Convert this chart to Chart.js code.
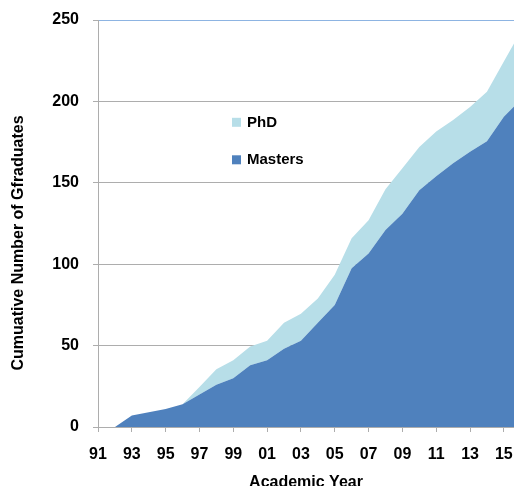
<!DOCTYPE html>
<html>
<head>
<meta charset="utf-8">
<script src="https://cdn.jsdelivr.net/npm/chart.js@4.4.1/dist/chart.umd.min.js"></script>
<style>
html,body{margin:0;padding:0;background:#fff;}
#wrap{width:514px;height:486px;}
canvas{display:block;}
</style>
</head>
<body>
<div id="wrap"><canvas id="c" width="514" height="486"></canvas></div>
<script>
// ---- data ----
const years   = [1992,1993,1994,1995,1996,1997,1998,1999,2000,2001,2002,2003,2004,2005,2006,2007,2008,2009,2010,2011,2012,2013,2014,2015,2016];
const masters = [0,7,9,11,14,20,26,30,38,41,48,53,64,75,97.5,106.5,121,131,145.5,154,162,169,175.5,190.5,201];
const phd     = [0,0,0,0,0,4.5,9.5,11,11.5,12,16,16.5,15,18.5,18.5,20.5,25,28,26.5,27.5,26.5,27.5,30.5,34,42];
const xTickYears = [1991,1993,1995,1997,1999,2001,2003,2005,2007,2009,2011,2013,2015];
const yTickValues = [0,50,100,150,200,250];
const seriesNames = ['Masters','PhD'];
const xTitle = 'Academic Year';
const yTitle = 'Cumuative Number of Gfraduates';

const FONT = "'Liberation Sans', Arial, sans-serif";
const GRID = '#ADADAD';

const overlayPlugin = {
  id: 'overlay',
  afterDatasetsDraw(chart) {
    const ctx = chart.ctx;
    ctx.save();
    // legend inside the plot (PhD above Masters)
    const items = chart.data.datasets.slice().reverse();
    ctx.font = 'bold 15px ' + FONT;
    ctx.textBaseline = 'middle';
    ctx.textAlign = 'left';
    items.forEach((ds, i) => {
      const cy = 122.3 + i * 37.5;
      ctx.fillStyle = ds.backgroundColor;
      ctx.fillRect(232, cy - 4.5, 9, 9);
      ctx.fillStyle = '#000';
      ctx.fillText(ds.label, 247, cy + 0.5);
    });
    // y axis title
    ctx.translate(18.6, 243);
    ctx.rotate(-Math.PI / 2);
    ctx.font = 'bold 16px ' + FONT;
    ctx.textAlign = 'center';
    ctx.textBaseline = 'middle';
    ctx.fillStyle = '#000';
    ctx.fillText(yTitle, 0, 0);
    ctx.restore();
  }
};

new Chart(document.getElementById('c'), {
  type: 'line',
  data: {
    datasets: [
      {
        label: seriesNames[0],
        data: years.map((x, i) => ({x: x, y: masters[i]})),
        backgroundColor: '#4F81BD',
        borderWidth: 0,
        borderColor: 'rgba(0,0,0,0)',
        fill: 'origin',
        pointRadius: 0,
        tension: 0
      },
      {
        label: seriesNames[1],
        data: years.map((x, i) => ({x: x, y: phd[i]})),
        backgroundColor: '#B7DEE8',
        borderWidth: 0,
        borderColor: 'rgba(0,0,0,0)',
        fill: '-1',
        pointRadius: 0,
        tension: 0
      }
    ]
  },
  options: {
    responsive: false,
    animation: false,
    devicePixelRatio: 1,
    layout: {padding: {top: 20, right: 0, left: 0, bottom: 0}},
    plugins: {legend: {display: false}, tooltip: {enabled: false}},
    scales: {
      x: {
        type: 'linear',
        min: 1991,
        max: 2015.6,
        afterBuildTicks: s => { s.ticks = xTickYears.map(v => ({value: v})); },
        afterFit: s => { s.height = 59; s.paddingLeft = 0; s.paddingRight = 0; },
        ticks: {
          callback: v => String(v % 100).padStart(2, '0'),
          font: {family: FONT, size: 16, weight: 'bold'},
          color: '#000',
          padding: 13,
          maxRotation: 0,
          autoSkip: false
        },
        grid: {display: true, drawOnChartArea: false, drawTicks: true, tickLength: 5, color: GRID},
        border: {display: true, color: GRID, width: 1},
        title: {
          display: true,
          text: xTitle,
          font: {family: FONT, size: 16, weight: 'bold'},
          color: '#000',
          padding: {top: 0, bottom: -6.5}
        }
      },
      y: {
        stacked: true,
        min: 0,
        max: 250,
        afterBuildTicks: s => { s.ticks = yTickValues.map(v => ({value: v})); },
        afterFit: s => { s.width = 98; s.paddingTop = 0; s.paddingBottom = 0; },
        ticks: {
          font: {family: FONT, size: 16, weight: 'bold'},
          color: '#000',
          padding: 14
        },
        grid: {
          color: c => (c.tick && c.tick.value === 250) ? '#8DB4E2' : GRID,
          tickColor: GRID,
          tickLength: 5,
          drawTicks: true
        },
        border: {display: true, color: GRID, width: 1}
      }
    }
  },
  plugins: [overlayPlugin]
});
</script>
</body>
</html>
